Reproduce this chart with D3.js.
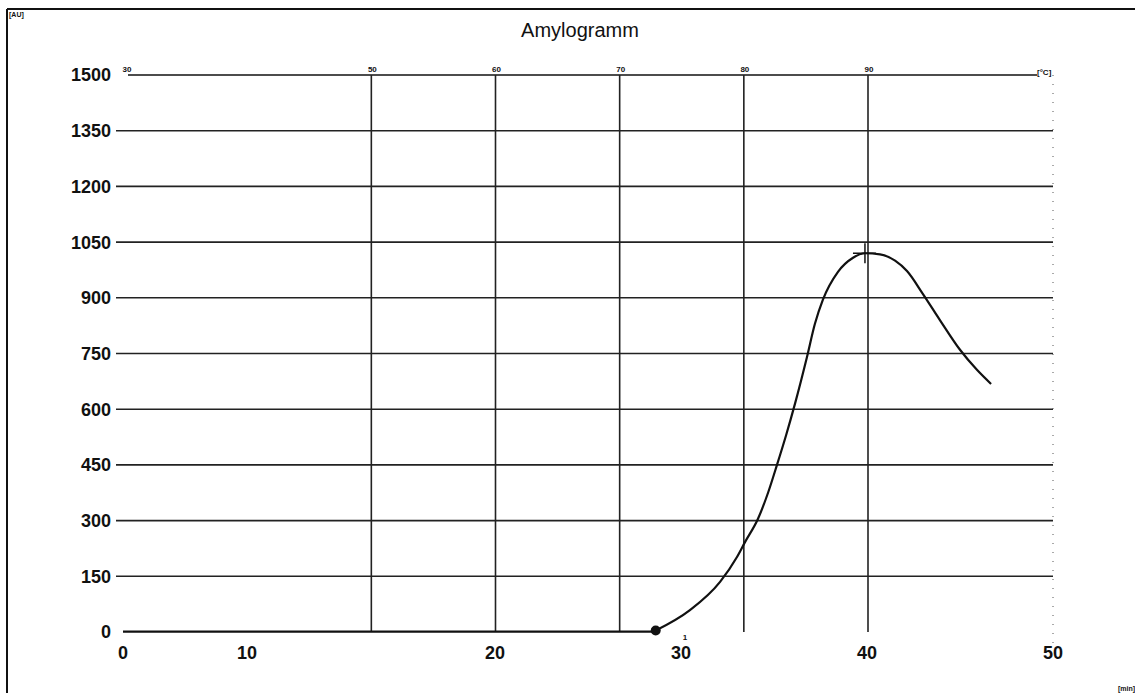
<!DOCTYPE html>
<html lang="de">
<head>
<meta charset="utf-8" />
<script src="https://cdn.jsdelivr.net/npm/d3@7/dist/d3.min.js"></script>
<style>
body { margin: 0; background: #fff; }
svg { font-family: "Liberation Sans", Arial, sans-serif; }
</style>
</head>
<body>
<svg id="chart" width="1135" height="693"></svg>
<script>
// Amylogramm: viscosity [AU] over time [min], temperature [°C] on top
var timeTicks = [0, 10, 20, 30, 40, 50];
var tempTicks = [30, 50, 60, 70, 80, 90];
var auTicks = [0, 150, 300, 450, 600, 750, 900, 1050, 1200, 1350, 1500];
var gridTemps = [50, 60, 70, 80, 90];

var flatTime = [0, 28.64];
var flatAU = [1, 1];

var curveTime = [28.64, 30.48, 32.10, 33.01, 33.44, 34.14, 34.68, 35.16, 35.65, 36.13,
                 36.77, 37.20, 37.63, 38.44, 39.25, 39.89, 40.70, 41.51, 42.15, 43.01,
                 43.92, 45.00, 45.91, 46.67];
var curveAU = [4, 59, 135, 202, 242, 305, 375, 450, 530, 615,
               740, 830, 895, 970, 1008, 1020, 1017, 1000, 972, 910,
               840, 760, 706, 668];

var startPoint = { t: 28.64, v: 4 };
var peakPoint = { t: 39.89, v: 1020 };

var svg = d3.select("#chart");

// time axis labels in the scan are not evenly spaced (10 sits left)
var x = d3.scaleLinear().domain([0, 10, 20, 50]).range([123, 247, 495, 1053]);
var xLin = d3.scaleLinear().domain([0, 50]).range([123, 1053]);
var xTemp = d3.scaleLinear().domain([30, 90]).range([123, 868]);
var y = d3.scaleLinear().domain([0, 1500]).range([632, 75]);

// outer frame
svg.append("line").attr("x1", 7).attr("x2", 7).attr("y1", 9).attr("y2", 693)
    .attr("stroke", "#111").attr("stroke-width", 2);
svg.append("line").attr("x1", 7).attr("x2", 1135).attr("y1", 9).attr("y2", 9)
    .attr("stroke", "#111").attr("stroke-width", 2);

svg.append("text").attr("x", 9).attr("y", 17)
    .attr("font-size", 7).attr("font-weight", "bold").attr("fill", "#111").text("[AU]");

svg.append("text").attr("x", 580).attr("y", 37).attr("text-anchor", "middle")
    .attr("font-size", 20).attr("fill", "#111").text("Amylogramm");

// horizontal grid
svg.append("g").selectAll("line")
    .data(auTicks.filter(function(d) { return d > 0 && d < 1500; }))
  .enter().append("line")
    .attr("x1", 116).attr("x2", xLin(50))
    .attr("y1", function(d) { return y(d); })
    .attr("y2", function(d) { return y(d); })
    .attr("stroke", "#222").attr("stroke-width", 1.6);

// top temperature axis line
svg.append("line").attr("x1", 128).attr("x2", 1037).attr("y1", y(1500)).attr("y2", y(1500))
    .attr("stroke", "#111").attr("stroke-width", 1.6);

// vertical grid at temperatures
svg.append("g").selectAll("line")
    .data(gridTemps)
  .enter().append("line")
    .attr("x1", function(d) { return xTemp(d); })
    .attr("x2", function(d) { return xTemp(d); })
    .attr("y1", y(1500)).attr("y2", y(0))
    .attr("stroke", "#222").attr("stroke-width", 1.6);

// right dotted border
svg.append("line").attr("x1", xLin(50)).attr("x2", xLin(50)).attr("y1", y(1500)).attr("y2", 645)
    .attr("stroke", "#555").attr("stroke-width", 1).attr("stroke-dasharray", "1,8");

// y labels
svg.append("g").selectAll("text")
    .data(auTicks)
  .enter().append("text")
    .attr("x", 111)
    .attr("y", function(d) { return y(d); })
    .attr("dy", "0.36em")
    .attr("text-anchor", "end")
    .attr("font-size", 18).attr("font-weight", "bold").attr("fill", "#111")
    .text(function(d) { return d; });

// bottom time labels
svg.append("g").selectAll("text")
    .data(timeTicks)
  .enter().append("text")
    .attr("x", function(d) { return x(d); })
    .attr("y", 659)
    .attr("text-anchor", "middle")
    .attr("font-size", 18).attr("font-weight", "bold").attr("fill", "#111")
    .text(function(d) { return d; });

svg.append("text").attr("x", 1118).attr("y", 691)
    .attr("font-size", 7).attr("font-weight", "bold").attr("fill", "#111").text("[min]");

// top temperature labels
svg.append("g").selectAll("text")
    .data(tempTicks)
  .enter().append("text")
    .attr("x", function(d) { return xTemp(d) + (d === 30 ? 4 : 1); })
    .attr("y", y(1500) - 3)
    .attr("text-anchor", "middle")
    .attr("font-size", 8).attr("font-weight", "bold").attr("fill", "#111")
    .text(function(d) { return d; });

svg.append("text").attr("x", 1037).attr("y", y(1500))
    .attr("font-size", 8).attr("font-weight", "bold").attr("fill", "#111").text("[°C]");

// curve
var line = d3.line()
    .x(function(d) { return xLin(d[0]); })
    .y(function(d) { return y(d[1]); });

svg.append("path").datum(flatTime.map(function(t, i) { return [t, flatAU[i]]; }))
    .attr("fill", "none").attr("stroke", "#111").attr("stroke-width", 2.2)
    .attr("d", line);
svg.append("path").datum(curveTime.map(function(t, i) { return [t, curveAU[i]]; }))
    .attr("fill", "none").attr("stroke", "#111").attr("stroke-width", 2.2)
    .attr("d", line.curve(d3.curveMonotoneX));

// start of gelatinisation
svg.append("circle").attr("cx", xLin(startPoint.t)).attr("cy", y(startPoint.v))
    .attr("r", 5).attr("fill", "#111");
svg.append("text").attr("x", xLin(startPoint.t) + 27).attr("y", 640)
    .attr("font-size", 8).attr("font-weight", "bold").attr("fill", "#111").text("1");

// peak marker
svg.append("line")
    .attr("x1", xLin(peakPoint.t) - 12).attr("x2", xLin(peakPoint.t) + 11)
    .attr("y1", y(peakPoint.v)).attr("y2", y(peakPoint.v))
    .attr("stroke", "#111").attr("stroke-width", 1.5);
svg.append("line")
    .attr("x1", xLin(peakPoint.t)).attr("x2", xLin(peakPoint.t))
    .attr("y1", y(peakPoint.v) - 10).attr("y2", y(peakPoint.v) + 10)
    .attr("stroke", "#111").attr("stroke-width", 1.5);
</script>
</body>
</html>
